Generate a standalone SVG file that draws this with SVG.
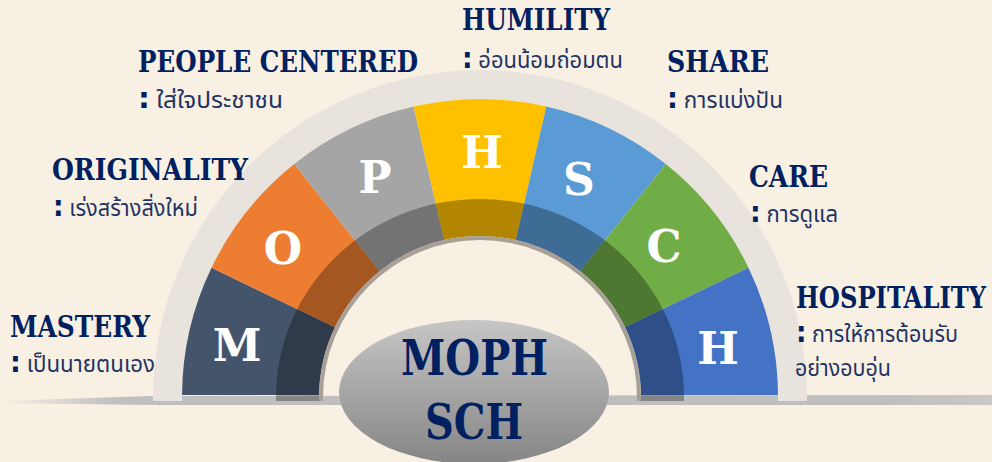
<svg xmlns="http://www.w3.org/2000/svg" width="992" height="462" viewBox="0 0 992 462">
<style>
.ttl{font-family:"DejaVu Serif","Liberation Serif",serif;font-weight:bold;font-size:30px;fill:#002060;}
.th{font-family:"Noto Sans Thai","Noto Sans","DejaVu Sans",sans-serif;font-size:23px;fill:#1f3464;}
.col{font-family:"DejaVu Sans","Liberation Sans",sans-serif;font-weight:bold;font-size:28px;fill:#002060;}
.let{font-family:"DejaVu Serif","Liberation Serif",serif;font-weight:bold;font-size:44px;fill:#ffffff;text-anchor:middle;}
.ctr{font-family:"DejaVu Serif","Liberation Serif",serif;font-weight:bold;font-size:48px;fill:#002060;}
</style>
<defs>
<linearGradient id="barG" x1="0" y1="0" x2="1" y2="0">
<stop offset="0" stop-color="#bfbfbf" stop-opacity="0"/>
<stop offset="0.12" stop-color="#bfbfbf" stop-opacity="1"/>
<stop offset="0.9" stop-color="#bfbfbf" stop-opacity="1"/>
<stop offset="1" stop-color="#bfbfbf" stop-opacity="0.8"/>
</linearGradient>
<linearGradient id="ellG" x1="0" y1="0" x2="0" y2="1">
<stop offset="0" stop-color="#c6c6c6"/>
<stop offset="1" stop-color="#858585"/>
</linearGradient>
<clipPath id="clipTop"><rect x="0" y="0" width="992" height="395"/></clipPath>
</defs>
<rect width="992" height="462" fill="#f9f0e4"/>
<path d="M0 401 L150 396 L992 395 L992 405 L150 405 L0 403 Z" fill="url(#barG)"/>
<g id="outer-band">
<path d="M153 401 L153 397 A327 327 0 0 1 807 397 L807 401 L778 401 L778 397 A298 298 0 0 0 182 397 L182 401 Z" fill="#e8e4dd"/>
</g>
<g id="segments" clip-path="url(#clipTop)">
<g id="seg-M"><path d="M182 397 A298 298 0 0 1 211.51 267.70 L334.94 327.15 A161 161 0 0 0 319 397 Z" fill="#44546a"/></g>
<g id="seg-O"><path d="M211.51 267.70 A298 298 0 0 1 294.20 164.01 L379.62 271.13 A161 161 0 0 0 334.94 327.15 Z" fill="#ed7d31"/></g>
<g id="seg-P"><path d="M294.20 164.01 A298 298 0 0 1 413.69 106.47 L444.17 240.04 A161 161 0 0 0 379.62 271.13 Z" fill="#a5a5a5"/></g>
<g id="seg-H1"><path d="M413.69 106.47 A298 298 0 0 1 546.31 106.47 L515.83 240.04 A161 161 0 0 0 444.17 240.04 Z" fill="#ffc000"/></g>
<g id="seg-S"><path d="M546.31 106.47 A298 298 0 0 1 665.80 164.01 L580.38 271.13 A161 161 0 0 0 515.83 240.04 Z" fill="#5b9bd5"/></g>
<g id="seg-C"><path d="M665.80 164.01 A298 298 0 0 1 748.49 267.70 L625.06 327.15 A161 161 0 0 0 580.38 271.13 Z" fill="#70ad47"/></g>
<g id="seg-H2"><path d="M748.49 267.70 A298 298 0 0 1 778 397 L641 397 A161 161 0 0 0 625.06 327.15 Z" fill="#4472c4"/></g>
</g>
<path d="M276 401 L276 397 A204 198 0 0 1 684 397 L684 401 L641 401 L641 397 A161 161 0 0 0 319 397 L319 401 Z" fill="#000000" fill-opacity="0.3"/>
<path d="M323 401 L323 397 A157 157 0 0 1 637 397 L637 401 L641 401 L641 397 A161 161 0 0 0 319 397 L319 401 Z" fill="#a8a096"/>
<g id="letters">
<text class="let" x="237" y="361">M</text>
<text class="let" x="283" y="264">O</text>
<text class="let" x="375" y="193">P</text>
<text class="let" x="482" y="168">H</text>
<text class="let" x="579" y="195">S</text>
<text class="let" x="664" y="262">C</text>
<text class="let" x="718" y="364">H</text>
</g>
<g id="center">
<ellipse cx="474" cy="392" rx="135" ry="72" fill="url(#ellG)"/>
<text class="ctr" x="401" y="375" textLength="147" lengthAdjust="spacingAndGlyphs">MOPH</text>
<text class="ctr" x="425" y="439" textLength="98" lengthAdjust="spacingAndGlyphs">SCH</text>
</g>
<g id="label-mastery">
<text class="ttl" x="10" y="337" textLength="140" lengthAdjust="spacingAndGlyphs">MASTERY</text>
<text class="th" x="10" y="372" textLength="145" lengthAdjust="spacingAndGlyphs"><tspan class="col">:</tspan> เป็นนายตนเอง</text>
</g>
<g id="label-originality">
<text class="ttl" x="52" y="180" textLength="196" lengthAdjust="spacingAndGlyphs">ORIGINALITY</text>
<text class="th" x="53" y="216" textLength="145" lengthAdjust="spacingAndGlyphs"><tspan class="col">:</tspan> เร่งสร้างสิ่งใหม่</text>
</g>
<g id="label-people">
<text class="ttl" x="138" y="72" textLength="280" lengthAdjust="spacingAndGlyphs">PEOPLE CENTERED</text>
<text class="th" x="138" y="108" textLength="145" lengthAdjust="spacingAndGlyphs"><tspan class="col">:</tspan> ใส่ใจประชาชน</text>
</g>
<g id="label-humility">
<text class="ttl" x="462" y="30" textLength="148" lengthAdjust="spacingAndGlyphs">HUMILITY</text>
<text class="th" x="462" y="68" textLength="161" lengthAdjust="spacingAndGlyphs"><tspan class="col">:</tspan> อ่อนน้อมถ่อมตน</text>
</g>
<g id="label-share">
<text class="ttl" x="667" y="72" textLength="102" lengthAdjust="spacingAndGlyphs">SHARE</text>
<text class="th" x="667" y="108" textLength="116" lengthAdjust="spacingAndGlyphs"><tspan class="col">:</tspan> การแบ่งปัน</text>
</g>
<g id="label-care">
<text class="ttl" x="749" y="187" textLength="79" lengthAdjust="spacingAndGlyphs">CARE</text>
<text class="th" x="750" y="222" textLength="88" lengthAdjust="spacingAndGlyphs"><tspan class="col">:</tspan> การดูแล</text>
</g>
<g id="label-hospitality">
<text class="ttl" x="796" y="308" textLength="190" lengthAdjust="spacingAndGlyphs">HOSPITALITY</text>
<text class="th" x="796" y="342" textLength="162" lengthAdjust="spacingAndGlyphs"><tspan class="col">:</tspan> การให้การต้อนรับ</text>
<text class="th" x="795" y="376" textLength="96" lengthAdjust="spacingAndGlyphs">อย่างอบอุ่น</text>
</g>
</svg>
